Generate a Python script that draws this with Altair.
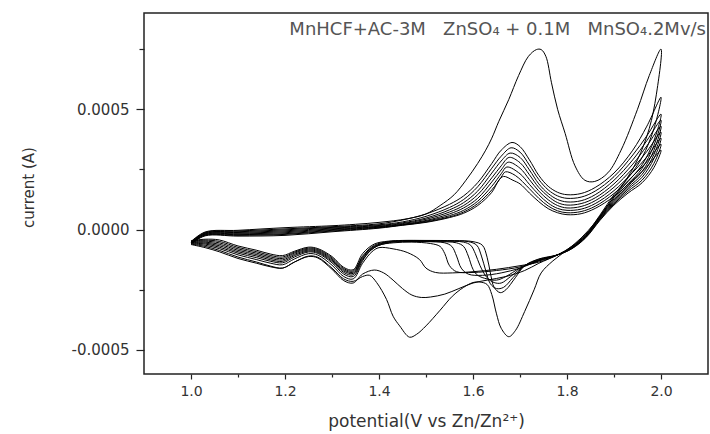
import altair as alt
import pandas as pd

# potential (V) , current (microampere) along each cycle: anodic sweep 1.0 -> 2.0, then cathodic 2.0 -> 1.0
C1_ANODIC = [(1.00,-50),(1.03,-10),(1.10,-3),(1.20,8),(1.30,16),(1.35,22),(1.40,30),(1.46,45),
             (1.50,65),(1.53,100),(1.56,145),(1.585,205),(1.61,275),(1.627,330),(1.64,380),(1.655,450),(1.676,540),(1.697,640),
             (1.718,720),(1.735,748),(1.745,748),(1.755,720),(1.767,610),(1.78,500),(1.796,400),(1.817,265),(1.838,205),(1.859,200),
             (1.887,236),(1.915,330),(1.95,500),(1.975,640),(2.00,750)]
C1_CATHODIC = [(1.99,560),(1.975,420),(1.95,290),(1.92,190),(1.89,110),(1.86,30),(1.83,-35),(1.80,-85),(1.77,-130),(1.745,-180),
               (1.73,-250),(1.71,-340),(1.69,-420),(1.676,-445),(1.66,-410),(1.65,-350),(1.64,-270),(1.63,-228),(1.615,-218),(1.60,-220),
               (1.58,-240),(1.556,-277),(1.53,-335),(1.50,-400),(1.48,-435),(1.465,-447),(1.444,-400),(1.43,-360),(1.416,-290),(1.395,-220),
               (1.38,-190),(1.365,-195),(1.345,-215),(1.325,-205),(1.30,-160),(1.27,-115),(1.25,-110),(1.22,-135),(1.195,-160),(1.17,-155),
               (1.14,-140),(1.10,-120),(1.06,-92),(1.03,-75),(1.00,-62)]

C2_ANODIC = [(1.00,-52),(1.03,-12),(1.10,-6),(1.20,3),(1.30,12),(1.40,24),(1.45,40),(1.50,65),(1.55,105),(1.58,140),(1.61,195),(1.64,275),
             (1.66,330),(1.683,362),(1.70,345),(1.72,290),(1.74,225),(1.76,180),(1.78,155),(1.80,145),(1.83,150),(1.86,175),(1.90,235),
             (1.94,330),(1.97,430),(2.00,550)]
C2_CATHODIC = [(1.985,420),(1.96,300),(1.93,215),(1.90,145),(1.87,60),(1.84,-20),(1.81,-70),(1.78,-105),(1.74,-140),(1.71,-170),
               (1.67,-195),(1.63,-210),(1.60,-222),(1.57,-245),(1.54,-268),(1.51,-280),(1.49,-282),(1.47,-272),(1.45,-245),(1.43,-210),
               (1.41,-180),(1.39,-168),(1.365,-185),(1.345,-222),(1.325,-212),(1.30,-165),(1.27,-118),(1.25,-112),(1.22,-135),(1.195,-160),
               (1.17,-152),(1.14,-135),(1.10,-114),(1.06,-86),(1.03,-70),(1.00,-60)]

C3_ANODIC = [(1.00,-54),(1.03,-14),(1.10,-9),(1.20,-1),(1.30,9),(1.40,20),(1.45,32),(1.50,55),(1.55,92),(1.58,125),(1.61,178),(1.64,255),
             (1.66,305),(1.681,340),(1.70,322),(1.72,268),(1.74,208),(1.76,165),(1.78,140),(1.80,130),(1.83,135),(1.86,160),(1.90,220),
             (1.94,310),(1.97,390),(2.00,480)]
C3_CATHODIC = [(1.985,370),(1.96,270),(1.93,200),(1.90,135),(1.87,55),(1.84,-22),(1.81,-72),(1.78,-105),(1.74,-135),(1.70,-150),
               (1.65,-165),(1.60,-175),(1.556,-180),(1.52,-178),(1.50,-160),(1.486,-124),(1.46,-95),(1.43,-80),(1.40,-75),(1.385,-92),
               (1.365,-140),(1.345,-205),(1.325,-195),(1.30,-148),(1.27,-106),(1.25,-100),(1.22,-122),(1.195,-146),(1.17,-140),(1.14,-125),
               (1.10,-105),(1.06,-79),(1.03,-65),(1.00,-58)]

C4_ANODIC = [(1.00,-55),(1.03,-16),(1.10,-12),(1.20,-5),(1.30,6),(1.40,17),(1.45,28),(1.50,48),(1.55,82),(1.58,112),(1.61,160),(1.64,235),
             (1.66,285),(1.679,318),(1.70,300),(1.72,248),(1.74,190),(1.76,150),(1.78,125),(1.80,115),(1.83,120),(1.86,145),(1.90,205),
             (1.94,290),(1.97,370),(2.00,455)]
C4_CATHODIC = [(1.985,350),(1.96,255),(1.93,190),(1.90,128),(1.87,52),(1.84,-24),(1.81,-74),(1.78,-105),(1.74,-130),(1.70,-155),
               (1.65,-170),(1.60,-178),(1.565,-175),(1.55,-150),(1.54,-100),(1.53,-70),(1.51,-58),(1.47,-52),(1.43,-55),(1.40,-65),
               (1.38,-90),(1.365,-130),(1.345,-195),(1.325,-185),(1.30,-138),(1.27,-99),(1.25,-93),(1.22,-114),(1.195,-138),(1.17,-132),
               (1.14,-117),(1.10,-98),(1.06,-73),(1.03,-60),(1.00,-56)]

C5_ANODIC = [(1.00,-56),(1.03,-18),(1.10,-15),(1.20,-9),(1.30,3),(1.40,14),(1.45,25),(1.50,43),(1.55,73),(1.58,100),(1.61,145),(1.64,215),
             (1.66,265),(1.677,300),(1.70,278),(1.72,228),(1.74,175),(1.76,138),(1.78,112),(1.80,102),(1.83,108),(1.86,132),(1.90,190),
             (1.94,272),(1.97,348),(2.00,430)]
C5_CATHODIC = [(1.985,330),(1.96,242),(1.93,182),(1.90,122),(1.87,50),(1.84,-26),(1.81,-76),(1.78,-105),(1.74,-130),(1.70,-160),
               (1.66,-180),(1.62,-190),(1.59,-185),(1.575,-160),(1.565,-110),(1.555,-70),(1.54,-55),(1.50,-50),(1.45,-50),(1.42,-55),
               (1.39,-75),(1.365,-125),(1.345,-188),(1.325,-178),(1.30,-132),(1.27,-95),(1.25,-89),(1.22,-108),(1.195,-132),(1.17,-126),
               (1.14,-110),(1.10,-92),(1.06,-67),(1.03,-56),(1.00,-54)]

C6_ANODIC = [(1.00,-57),(1.03,-20),(1.10,-18),(1.20,-13),(1.30,0),(1.40,12),(1.45,22),(1.50,38),(1.55,65),(1.58,90),(1.61,130),(1.64,198),
             (1.66,248),(1.675,280),(1.70,255),(1.72,208),(1.74,160),(1.76,124),(1.78,100),(1.80,90),(1.83,96),(1.86,120),(1.90,176),
             (1.94,255),(1.97,325),(2.00,405)]
C6_CATHODIC = [(1.985,312),(1.96,230),(1.93,175),(1.90,117),(1.87,47),(1.84,-28),(1.81,-77),(1.78,-105),(1.74,-128),(1.70,-160),
               (1.67,-195),(1.65,-210),(1.63,-205),(1.61,-190),(1.60,-165),(1.59,-110),(1.58,-70),(1.565,-55),(1.52,-50),(1.47,-48),
               (1.43,-50),(1.40,-62),(1.38,-85),(1.365,-120),(1.345,-182),(1.325,-172),(1.30,-127),(1.27,-91),(1.25,-85),(1.22,-103),
               (1.195,-126),(1.17,-120),(1.14,-104),(1.10,-86),(1.06,-61),(1.03,-52),(1.00,-52)]

C7_ANODIC = [(1.00,-58),(1.03,-22),(1.10,-21),(1.20,-17),(1.30,-3),(1.40,10),(1.45,20),(1.50,35),(1.55,58),(1.58,80),(1.61,118),(1.64,180),
             (1.66,232),(1.672,260),(1.70,232),(1.72,188),(1.74,145),(1.76,110),(1.78,88),(1.80,80),(1.83,85),(1.86,108),(1.90,162),
             (1.94,238),(1.97,302),(2.00,380)]
C7_CATHODIC = [(1.985,295),(1.96,218),(1.93,168),(1.90,112),(1.87,44),(1.84,-30),(1.81,-78),(1.78,-105),(1.74,-126),(1.71,-150),
               (1.68,-195),(1.66,-222),(1.645,-220),(1.63,-200),(1.615,-150),(1.605,-100),(1.595,-65),(1.58,-52),(1.54,-48),(1.49,-47),
               (1.44,-48),(1.41,-55),(1.385,-75),(1.365,-115),(1.345,-177),(1.325,-167),(1.30,-122),(1.27,-87),(1.25,-81),(1.22,-98),
               (1.195,-120),(1.17,-114),(1.14,-98),(1.10,-80),(1.06,-55),(1.03,-48),(1.00,-50)]

C8_ANODIC = [(1.00,-59),(1.03,-24),(1.10,-24),(1.20,-20),(1.30,-6),(1.40,8),(1.45,19),(1.50,32),(1.55,53),(1.58,73),(1.61,108),(1.64,165),
             (1.66,218),(1.669,240),(1.69,225),(1.72,170),(1.74,130),(1.76,98),(1.78,78),(1.80,70),(1.83,75),(1.86,97),(1.90,150),
             (1.94,222),(1.97,282),(2.00,355)]
C8_CATHODIC = [(1.985,275),(1.96,206),(1.93,160),(1.90,107),(1.87,41),(1.84,-32),(1.81,-79),(1.78,-105),(1.74,-124),(1.71,-150),
               (1.685,-200),(1.665,-240),(1.65,-245),(1.637,-225),(1.627,-170),(1.618,-110),(1.608,-65),(1.59,-50),(1.55,-47),(1.50,-46),
               (1.45,-46),(1.42,-50),(1.39,-65),(1.365,-110),(1.345,-172),(1.325,-162),(1.30,-117),(1.27,-83),(1.25,-77),(1.22,-94),
               (1.195,-114),(1.17,-108),(1.14,-92),(1.10,-74),(1.06,-49),(1.03,-44),(1.00,-48)]

C9_ANODIC = [(1.00,-60),(1.03,-26),(1.10,-27),(1.20,-24),(1.30,-9),(1.40,6),(1.45,18),(1.50,30),(1.55,50),(1.58,68),(1.61,100),(1.64,155),
             (1.655,205),(1.665,221),(1.685,205),(1.70,190),(1.72,152),(1.74,116),(1.76,87),(1.78,70),(1.80,62),(1.83,66),(1.86,88),
             (1.90,138),(1.94,205),(1.97,262),(2.00,330)]
C9_CATHODIC = [(1.985,258),(1.96,195),(1.93,152),(1.90,102),(1.87,38),(1.84,-34),(1.81,-80),(1.78,-105),(1.74,-122),(1.71,-150),
               (1.69,-200),(1.67,-250),(1.658,-262),(1.645,-240),(1.637,-180),(1.63,-115),(1.62,-65),(1.60,-50),(1.56,-46),(1.50,-45),
               (1.45,-45),(1.42,-48),(1.39,-60),(1.365,-100),(1.345,-167),(1.325,-157),(1.30,-112),(1.27,-79),(1.25,-73),(1.22,-90),
               (1.195,-108),(1.17,-102),(1.14,-86),(1.10,-68),(1.06,-43),(1.03,-40),(1.00,-46)]

CYCLES = [("1", C1_ANODIC, C1_CATHODIC), ("2", C2_ANODIC, C2_CATHODIC), ("3", C3_ANODIC, C3_CATHODIC),
          ("4", C4_ANODIC, C4_CATHODIC), ("5", C5_ANODIC, C5_CATHODIC), ("6", C6_ANODIC, C6_CATHODIC),
          ("7", C7_ANODIC, C7_CATHODIC), ("8", C8_ANODIC, C8_CATHODIC), ("9", C9_ANODIC, C9_CATHODIC)]

X_TICKS = [1.0, 1.1, 1.2, 1.3, 1.4, 1.5, 1.6, 1.7, 1.8, 1.9, 2.0]
Y_TICKS = [-0.0005, -0.00025, 0.0, 0.00025, 0.0005, 0.00075]
X_DOMAIN = [0.9, 2.1]
Y_DOMAIN = [-0.0006, 0.0009]

TITLE = "MnHCF+AC-3M\u00a0\u00a0\u00a0ZnSO\u2084 + 0.1M\u00a0\u00a0\u00a0MnSO\u2084.2Mv/s"
X_TITLE = "potential(V vs Zn/Zn\u00b2\u207a)"
Y_TITLE = "current (A)"

rows = []
for name, an, ca in CYCLES:
    for k, (e, i) in enumerate(an + ca):
        rows.append({"cycle": name, "step": k, "E": e, "I": i * 1e-6})
df = pd.DataFrame(rows)

FONT = "DejaVu Sans"
x_major = "abs(datum.value*5 - round(datum.value*5)) < 0.001"
y_major = "abs(datum.value*2000 - round(datum.value*2000)) < 0.001"

x_axis = alt.Axis(
    values=X_TICKS, title=X_TITLE, grid=False, domain=False,
    labelExpr=f"{x_major} ? format(datum.value, '.1f') : ''",
    tickSize={"condition": {"test": x_major, "value": 5}, "value": 3},
    tickColor="#222", tickWidth=1.2, labelFont=FONT, labelFontSize=14, labelColor="#333",
    labelPadding=5, titleFont=FONT, titleFontSize=17, titleFontWeight="normal", titleColor="#333",
    titleBaseline="alphabetic", titleY=52,
)
y_axis = alt.Axis(
    values=Y_TICKS, title=Y_TITLE, grid=False, domain=False,
    labelExpr=f"{y_major} ? replace(format(datum.value, '.4f'), '\u2212', '-') : ''",
    tickSize={"condition": {"test": y_major, "value": 8}, "value": 5},
    tickColor="#222", tickWidth=1.2, labelFont=FONT, labelFontSize=15, labelColor="#333",
    labelPadding=7, titleFont=FONT, titleFontSize=15, titleFontWeight="normal", titleColor="#333",
    titleAngle=-90, titleAlign="center", titleBaseline="bottom", titleX=-108, titleY=174,
)

curves = alt.Chart(df).mark_line(color="black", strokeWidth=1, interpolate="catmull-rom", clip=True).encode(
    x=alt.X("E:Q", scale=alt.Scale(domain=X_DOMAIN, nice=False, zero=False), axis=x_axis),
    y=alt.Y("I:Q", scale=alt.Scale(domain=Y_DOMAIN, nice=False, zero=False), axis=y_axis),
    detail="cycle:N",
    order="step:Q",
)

label = alt.Chart(pd.DataFrame({"t": [TITLE]})).mark_text(
    font=FONT, fontSize=18, color="#555", align="right", baseline="alphabetic"
).encode(text="t:N", x=alt.value(562), y=alt.value(22))

chart = alt.layer(curves, label).properties(
    width=564, height=361,
    autosize=alt.AutoSizeParams(type="none"),
    padding={"left": 144, "top": 13, "right": 2, "bottom": 60},
    background="white",
).configure_view(stroke="#222", strokeWidth=1.5)

chart.save("out.html", embed_options={"renderer": "svg", "actions": False})
